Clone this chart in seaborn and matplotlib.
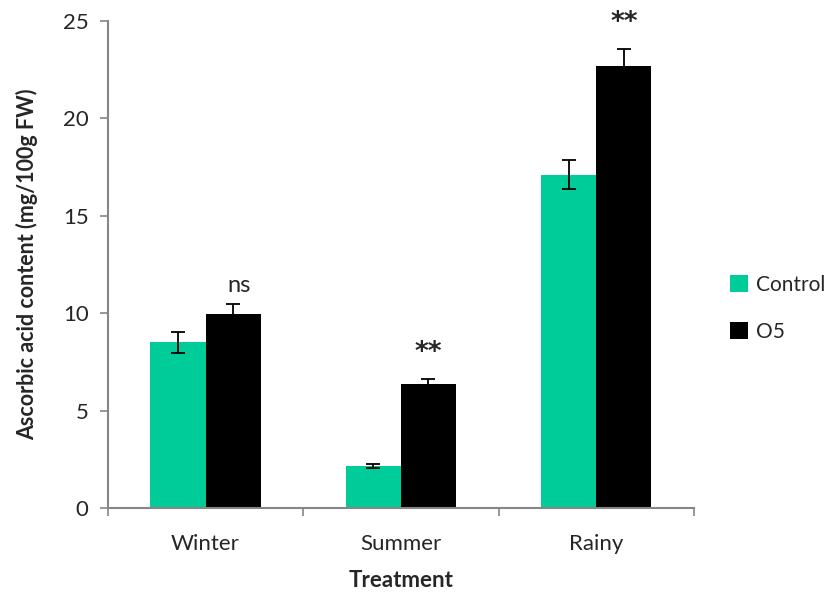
import numpy as np
import pandas as pd
import matplotlib
matplotlib.use("Agg")
import matplotlib.pyplot as plt
import seaborn as sns

# data
seasons = ["Winter", "Summer", "Rainy"]
groups = ["Control", "O5"]
control_vals = [8.5, 2.15, 17.1]
o5_vals = [9.95, 6.35, 22.7]
control_err = [0.55, 0.12, 0.75]
o5_err = [0.5, 0.25, 0.85]
signif = ["ns", "**", "**"]

df = pd.DataFrame({
    "Treatment": seasons * 2,
    "Group": ["Control"] * 3 + ["O5"] * 3,
    "Value": control_vals + o5_vals,
    "Err": control_err + o5_err,
})

sns.set_style("white")
plt.rcParams["font.family"] = ["Lato", "DejaVu Sans"]

fig = plt.figure(figsize=(8.3, 5.92), dpi=100)
ax = fig.add_axes([0.130, 0.142, 0.706, 0.8225])

sns.barplot(data=df, x="Treatment", y="Value", hue="Group", order=seasons,
            hue_order=groups, palette=["#00CC99", "#000000"], errorbar=None,
            width=0.565, saturation=1, linewidth=0, ax=ax)

# error bars placed at bar centres
for cont, g in zip(ax.containers, groups):
    sub = df[df["Group"] == g].set_index("Treatment").loc[seasons]
    xs = [p.get_x() + p.get_width() / 2 for p in cont.patches]
    ax.errorbar(xs, sub["Value"], yerr=sub["Err"], fmt="none", ecolor="black",
                elinewidth=1.3, capsize=5, capthick=1.3)
    if g == "O5":
        for x, v, e, s in zip(xs, sub["Value"], sub["Err"], signif):
            if s == "ns":
                ax.text(x + 0.03, v + e + 0.45, s, ha="center", va="bottom", fontsize=17)
            else:
                ax.text(x, v + e + 0.7, s, ha="center", va="bottom", fontsize=19,
                        family="DejaVu Sans", fontweight="bold")

ax.set_xlim(-0.5, 2.5)
ax.set_ylim(0, 25)
ax.set_yticks([0, 5, 10, 15, 20, 25])
ax.set_xticks([-0.5, 0.5, 1.5, 2.5], minor=True)
ax.tick_params(axis="x", which="major", length=0, labelsize=16, pad=19)
ax.tick_params(axis="x", which="minor", length=6, width=1.2, color="#868686", direction="out", bottom=True)
ax.tick_params(axis="y", length=6, width=1.2, color="#868686", direction="out", left=True, labelsize=16, pad=8)

for side in ["top", "right"]:
    ax.spines[side].set_visible(False)
for side in ["left", "bottom"]:
    ax.spines[side].set_color("#868686")
    ax.spines[side].set_linewidth(1.5)

ax.set_xlabel("Treatment", fontsize=16, fontweight="bold", labelpad=11)
ax.set_ylabel("Ascorbic acid content (mg/100g FW)", fontsize=15.5, fontweight="bold", labelpad=18)

ax.legend(loc="center left", bbox_to_anchor=(1.03, 0.41), frameon=False,
          fontsize=15, handlelength=0.85, handleheight=0.85, labelspacing=1.3,
          handletextpad=0.4)

fig.savefig("out.png", dpi=100)
